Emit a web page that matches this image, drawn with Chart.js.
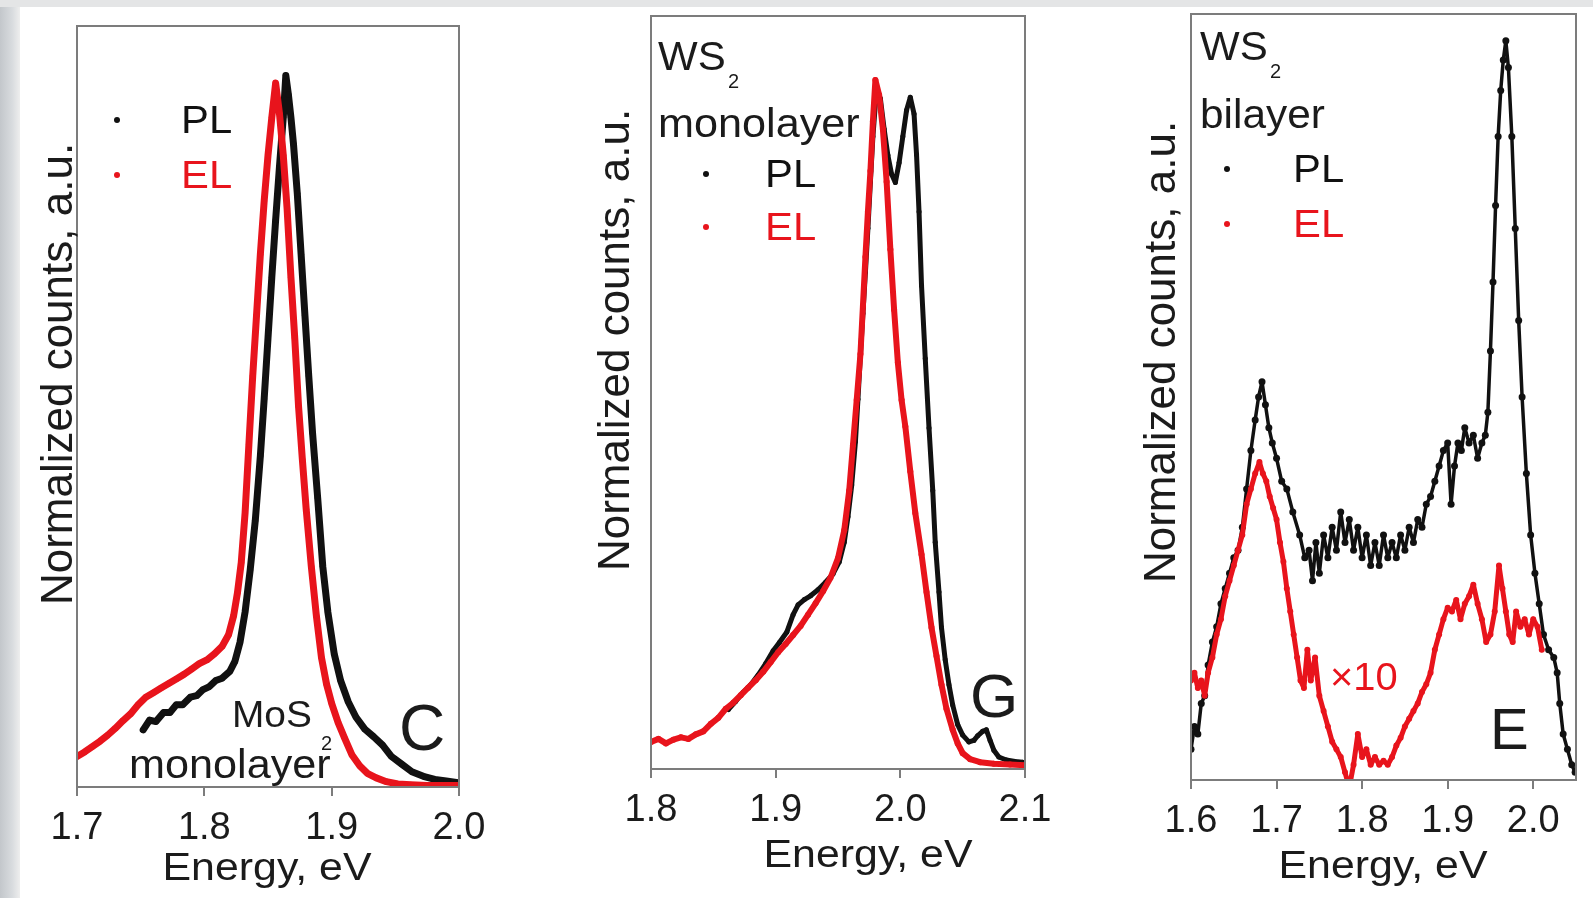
<!DOCTYPE html>
<html>
<head>
<meta charset="utf-8">
<title>PL / EL spectra</title>
<script src="https://cdn.jsdelivr.net/npm/chart.js@4.4.0/dist/chart.umd.min.js"></script>
<style>
  html, body { margin: 0; padding: 0; background: #fff; }
  body { width: 1593px; height: 898px; position: relative; overflow: hidden; }
  #edgeLeft { position: absolute; left: 0; top: 0; width: 20px; height: 898px;
    background: linear-gradient(to right, #c3c7cb, #d8dbde 60%, #eeeeee); }
  #edgeTop { position: absolute; left: 0; top: 0; width: 1593px; height: 7px; background: #e4e5e6; }
  canvas { position: absolute; left: 0; top: 0; }
</style>
</head>
<body>
<div id="edgeLeft"></div>
<div id="edgeTop"></div>
<canvas id="c1" width="1593" height="898"></canvas>
<canvas id="c2" width="1593" height="898"></canvas>
<canvas id="c3" width="1593" height="898"></canvas>
<script>
// ---- data (energy in eV, counts normalised to the frame height) ----

// C: MoS2 monolayer
const mos2PLx = [1.752,1.757,1.762,1.768,1.773,1.778,1.783,1.789,1.794,1.799,1.804,1.809,1.814,1.820,1.824,1.828,1.832,1.836,1.840,1.844,1.847,1.850,1.853,1.856,1.859,1.862,1.864,1.866,1.868,1.870,1.873,1.876,1.879,1.882,1.885,1.889,1.893,1.897,1.902,1.907,1.913,1.919,1.926,1.933,1.940,1.947,1.955,1.963,1.972,1.981,1.990,1.998];
const mos2PLy = [0.075,0.088,0.086,0.098,0.098,0.108,0.108,0.118,0.120,0.128,0.132,0.140,0.143,0.152,0.165,0.190,0.230,0.285,0.350,0.435,0.510,0.590,0.670,0.745,0.815,0.880,0.935,0.910,0.880,0.845,0.780,0.700,0.620,0.540,0.465,0.380,0.290,0.230,0.175,0.140,0.112,0.092,0.076,0.066,0.055,0.040,0.030,0.020,0.014,0.010,0.008,0.006];
const mos2ELx = [1.700,1.706,1.712,1.718,1.724,1.730,1.736,1.742,1.748,1.754,1.760,1.766,1.772,1.778,1.784,1.790,1.796,1.802,1.808,1.814,1.819,1.823,1.826,1.829,1.832,1.835,1.838,1.841,1.844,1.847,1.850,1.853,1.856,1.859,1.862,1.865,1.868,1.871,1.874,1.877,1.880,1.884,1.888,1.892,1.896,1.900,1.905,1.910,1.916,1.922,1.928,1.935,1.943,1.952,1.962,1.975,1.988,2.000];
const mos2ELy = [0.040,0.046,0.053,0.060,0.068,0.077,0.087,0.096,0.108,0.118,0.124,0.130,0.136,0.142,0.148,0.155,0.162,0.167,0.175,0.185,0.200,0.225,0.255,0.295,0.360,0.450,0.540,0.620,0.700,0.770,0.830,0.880,0.925,0.885,0.830,0.760,0.670,0.590,0.500,0.430,0.365,0.290,0.225,0.170,0.135,0.110,0.085,0.065,0.042,0.028,0.018,0.012,0.007,0.004,0.003,0.002,0.002,0.002];

// G: WS2 monolayer
const ws2MonoPLx = [1.862,1.868,1.874,1.880,1.886,1.892,1.898,1.903,1.909,1.914,1.918,1.923,1.928,1.934,1.940,1.946,1.951,1.955,1.958,1.961,1.964,1.966,1.968,1.970,1.972,1.974,1.976,1.978,1.981,1.984,1.987,1.990,1.993,1.996,1.999,2.002,2.005,2.008,2.011,2.013,2.015,2.017,2.020,2.023,2.026,2.028,2.031,2.033,2.036,2.039,2.042,2.046,2.050,2.055,2.059,2.062,2.066,2.069,2.072,2.075,2.079,2.085,2.092,2.098];
const ws2MonoPLy = [0.079,0.090,0.102,0.112,0.125,0.140,0.157,0.168,0.182,0.205,0.218,0.225,0.230,0.238,0.248,0.259,0.275,0.301,0.335,0.377,0.435,0.491,0.550,0.605,0.660,0.718,0.780,0.840,0.905,0.890,0.850,0.815,0.790,0.779,0.805,0.840,0.875,0.892,0.870,0.816,0.740,0.642,0.545,0.453,0.370,0.301,0.235,0.188,0.145,0.112,0.085,0.059,0.045,0.036,0.038,0.044,0.050,0.052,0.038,0.025,0.016,0.012,0.010,0.009];
const ws2MonoELx = [1.800,1.806,1.812,1.818,1.824,1.830,1.836,1.842,1.848,1.854,1.860,1.866,1.872,1.878,1.884,1.890,1.896,1.902,1.908,1.914,1.920,1.926,1.932,1.938,1.944,1.950,1.955,1.959,1.962,1.965,1.968,1.970,1.972,1.974,1.976,1.978,1.980,1.983,1.986,1.989,1.992,1.995,1.998,2.001,2.004,2.008,2.012,2.017,2.021,2.025,2.029,2.033,2.037,2.042,2.046,2.050,2.056,2.064,2.075,2.088,2.100];
const ws2MonoELy = [0.036,0.040,0.034,0.039,0.042,0.040,0.046,0.050,0.060,0.068,0.080,0.088,0.098,0.108,0.118,0.129,0.142,0.155,0.166,0.178,0.190,0.205,0.220,0.236,0.254,0.280,0.317,0.370,0.430,0.490,0.551,0.615,0.680,0.740,0.794,0.860,0.915,0.895,0.850,0.780,0.690,0.610,0.540,0.490,0.455,0.395,0.340,0.285,0.235,0.188,0.150,0.112,0.080,0.052,0.034,0.021,0.013,0.009,0.007,0.006,0.005];

// E: WS2 bilayer (EL shown x10)
const ws2BiPLx = [1.600,1.604,1.608,1.612,1.616,1.620,1.625,1.630,1.635,1.640,1.645,1.650,1.655,1.660,1.665,1.670,1.675,1.679,1.683,1.687,1.691,1.695,1.700,1.706,1.712,1.719,1.727,1.733,1.738,1.742,1.746,1.750,1.755,1.760,1.765,1.770,1.775,1.780,1.785,1.790,1.795,1.800,1.805,1.810,1.815,1.820,1.825,1.830,1.835,1.840,1.845,1.850,1.855,1.860,1.865,1.870,1.875,1.880,1.885,1.890,1.895,1.900,1.904,1.908,1.912,1.916,1.920,1.925,1.930,1.935,1.940,1.944,1.947,1.950,1.953,1.956,1.959,1.962,1.965,1.968,1.971,1.975,1.979,1.983,1.987,1.992,1.997,2.002,2.007,2.012,2.018,2.024,2.028,2.031,2.035,2.040,2.045,2.049];
const ws2BiPLy = [0.04,0.07,0.06,0.10,0.11,0.15,0.18,0.20,0.23,0.25,0.27,0.29,0.30,0.33,0.38,0.43,0.47,0.50,0.52,0.49,0.46,0.44,0.42,0.39,0.38,0.35,0.32,0.29,0.30,0.26,0.31,0.27,0.32,0.29,0.33,0.30,0.35,0.31,0.34,0.30,0.33,0.29,0.32,0.28,0.31,0.28,0.32,0.29,0.31,0.29,0.32,0.30,0.33,0.31,0.34,0.33,0.36,0.37,0.39,0.41,0.43,0.44,0.36,0.41,0.44,0.43,0.46,0.44,0.45,0.42,0.44,0.45,0.48,0.56,0.65,0.75,0.84,0.90,0.94,0.965,0.93,0.84,0.72,0.60,0.50,0.40,0.32,0.27,0.23,0.19,0.17,0.16,0.14,0.10,0.06,0.04,0.02,0.01];
const ws2BiELx = [1.600,1.604,1.608,1.612,1.616,1.620,1.625,1.630,1.635,1.640,1.645,1.650,1.655,1.660,1.665,1.670,1.675,1.680,1.684,1.688,1.692,1.696,1.700,1.704,1.708,1.712,1.716,1.720,1.724,1.728,1.732,1.736,1.740,1.745,1.750,1.755,1.760,1.765,1.770,1.775,1.780,1.785,1.790,1.795,1.800,1.805,1.810,1.815,1.820,1.825,1.830,1.835,1.840,1.845,1.850,1.855,1.860,1.865,1.870,1.875,1.880,1.885,1.890,1.895,1.900,1.905,1.910,1.915,1.920,1.925,1.930,1.935,1.940,1.945,1.950,1.955,1.960,1.964,1.968,1.972,1.976,1.980,1.985,1.990,1.995,2.000,2.005,2.010];
const ws2BiELy = [0.13,0.14,0.12,0.13,0.11,0.14,0.16,0.19,0.21,0.24,0.26,0.28,0.30,0.32,0.36,0.38,0.40,0.415,0.40,0.39,0.37,0.355,0.34,0.31,0.285,0.25,0.22,0.19,0.16,0.13,0.12,0.17,0.13,0.16,0.11,0.09,0.07,0.05,0.04,0.03,0.01,-0.01,0.02,0.06,0.03,0.04,0.02,0.03,0.02,0.025,0.02,0.03,0.045,0.055,0.07,0.08,0.09,0.10,0.115,0.125,0.14,0.17,0.19,0.21,0.225,0.22,0.235,0.21,0.23,0.24,0.255,0.23,0.21,0.18,0.19,0.22,0.28,0.25,0.22,0.19,0.18,0.22,0.20,0.21,0.19,0.21,0.20,0.17];

const seriesNames = ['PL', 'EL'];
const xTitle = 'Energy, eV';
const yTitle = 'Normalized counts, a.u.';

// ---- styling ----
const FONT = '"Liberation Sans", Arial, Helvetica, sans-serif';
const INK = '#1b1b1b';
const BLACK = '#111111';
const RED = '#e8141c';
const FRAME = '#7c7c7c';
const PAGE_W = 1593, PAGE_H = 898;

function toPoints(xs, ys) {
    return xs.map((x, i) => ({ x: x, y: ys[i] }));
}

function drawText(ctx, text, x, y, size, color, sx, align) {
    ctx.save();
    ctx.translate(x, y);
    ctx.scale(sx || 1, 1);
    ctx.font = size + 'px ' + FONT;
    ctx.fillStyle = color;
    ctx.textAlign = align || 'left';
    ctx.textBaseline = 'alphabetic';
    ctx.fillText(text, 0, 0);
    ctx.restore();
}

// frame, axis titles, legend and the labels inside each panel
const panelText = {
    id: 'panelText',
    afterDraw(chart, args, o) {
        const ctx = chart.ctx;
        const a = chart.chartArea;
        ctx.save();
        ctx.strokeStyle = FRAME;
        ctx.lineWidth = 2;
        ctx.strokeRect(a.left, a.top, a.right - a.left, a.bottom - a.top);

        ctx.save();
        ctx.translate(o.yTitle.x, o.yTitle.y);
        ctx.rotate(-Math.PI / 2);
        ctx.font = '44px ' + FONT;
        ctx.fillStyle = INK;
        ctx.textAlign = 'center';
        ctx.textBaseline = 'alphabetic';
        ctx.fillText(yTitle, 0, 0);
        ctx.restore();

        drawText(ctx, xTitle, o.xTitle.x, o.xTitle.y, 39, INK, 1.1, 'center');

        chart.data.datasets.forEach((ds, i) => {
            const y = o.legend.y[i];
            ctx.fillStyle = ds.borderColor;
            ctx.beginPath();
            ctx.arc(o.legend.dotX, y - 13, 3, 0, Math.PI * 2);
            ctx.fill();
            drawText(ctx, ds.label, o.legend.textX, y, 38, ds.borderColor, 1.1, 'left');
        });

        o.notes.forEach(n => drawText(ctx, n.t, n.x, n.y, n.size, n.color || INK, n.sx || 1, 'left'));
        ctx.restore();
    }
};

function makePanel(cfg) {
    const datasets = [
        { label: seriesNames[0], data: toPoints(cfg.pl[0], cfg.pl[1]), borderColor: BLACK, backgroundColor: BLACK,
          borderWidth: cfg.plWidth, pointRadius: cfg.plRadius, order: 1 },
        { label: seriesNames[1], data: toPoints(cfg.el[0], cfg.el[1]), borderColor: RED, backgroundColor: RED,
          borderWidth: cfg.elWidth, pointRadius: cfg.elRadius, order: 0 }
    ];
    datasets.forEach(d => { d.showLine = true; d.tension = 0; d.pointBorderWidth = 0; d.borderJoinStyle = 'round'; d.borderCapStyle = 'round'; });

    return new Chart(document.getElementById(cfg.id), {
        type: 'scatter',
        data: { datasets: datasets },
        options: {
            responsive: false,
            animation: false,
            events: [],
            layout: { padding: { left: cfg.box.left, top: cfg.box.top, right: PAGE_W - cfg.box.right, bottom: 0 } },
            plugins: {
                legend: { display: false },
                tooltip: { enabled: false },
                panelText: cfg.text
            },
            scales: {
                x: {
                    type: 'linear',
                    min: cfg.xMin,
                    max: cfg.xMax,
                    afterFit: s => { s.height = PAGE_H - cfg.box.bottom; },
                    ticks: {
                        stepSize: 0.1,
                        includeBounds: false,
                        autoSkip: false,
                        maxRotation: 0,
                        padding: 10,
                        color: INK,
                        font: { family: FONT, size: 38 },
                        callback: v => v.toFixed(1)
                    },
                    grid: { drawOnChartArea: false, drawTicks: true, tickLength: 9, color: FRAME, lineWidth: 2 },
                    border: { color: FRAME, width: 2 }
                },
                y: { display: false, min: 0, max: 1 }
            }
        },
        plugins: [panelText]
    });
}

makePanel({
    id: 'c1', box: { left: 77, top: 26, right: 459, bottom: 787 }, xMin: 1.7, xMax: 2.0,
    pl: [mos2PLx, mos2PLy], el: [mos2ELx, mos2ELy],
    plWidth: 7, plRadius: 3, elWidth: 7, elRadius: 3,
    text: {
        yTitle: { x: 72, y: 374 }, xTitle: { x: 267, y: 880 },
        legend: { dotX: 117, textX: 181, y: [133, 188] },
        notes: [
            { t: 'MoS', x: 232, y: 727, size: 37, sx: 1.05 },
            { t: '2', x: 321, y: 750, size: 20 },
            { t: 'monolayer', x: 129, y: 778, size: 40, sx: 1.08 },
            { t: 'C', x: 399, y: 750, size: 64 }
        ]
    }
});

makePanel({
    id: 'c2', box: { left: 651, top: 16, right: 1025, bottom: 769 }, xMin: 1.8, xMax: 2.1,
    pl: [ws2MonoPLx, ws2MonoPLy], el: [ws2MonoELx, ws2MonoELy],
    plWidth: 5, plRadius: 2.5, elWidth: 6, elRadius: 3,
    text: {
        yTitle: { x: 629, y: 340 }, xTitle: { x: 868, y: 867 },
        legend: { dotX: 706, textX: 765, y: [187, 240] },
        notes: [
            { t: 'WS', x: 658, y: 70, size: 40, sx: 1.05 },
            { t: '2', x: 728, y: 88, size: 20 },
            { t: 'monolayer', x: 658, y: 137, size: 40, sx: 1.08 },
            { t: 'G', x: 970, y: 717, size: 62 }
        ]
    }
});

makePanel({
    id: 'c3', box: { left: 1191, top: 14, right: 1576, bottom: 780 }, xMin: 1.6, xMax: 2.05,
    pl: [ws2BiPLx, ws2BiPLy], el: [ws2BiELx, ws2BiELy],
    plWidth: 3.5, plRadius: 3.5, elWidth: 5, elRadius: 3,
    text: {
        yTitle: { x: 1175, y: 352 }, xTitle: { x: 1383, y: 878 },
        legend: { dotX: 1227, textX: 1293, y: [182, 237] },
        notes: [
            { t: 'WS', x: 1200, y: 60, size: 40, sx: 1.05 },
            { t: '2', x: 1270, y: 78, size: 20 },
            { t: 'bilayer', x: 1200, y: 128, size: 40, sx: 1.06 },
            { t: '\u00d710', x: 1330, y: 690, size: 38, sx: 1.05, color: RED },
            { t: 'E', x: 1490, y: 749, size: 58 }
        ]
    }
});
</script>
</body>
</html>
